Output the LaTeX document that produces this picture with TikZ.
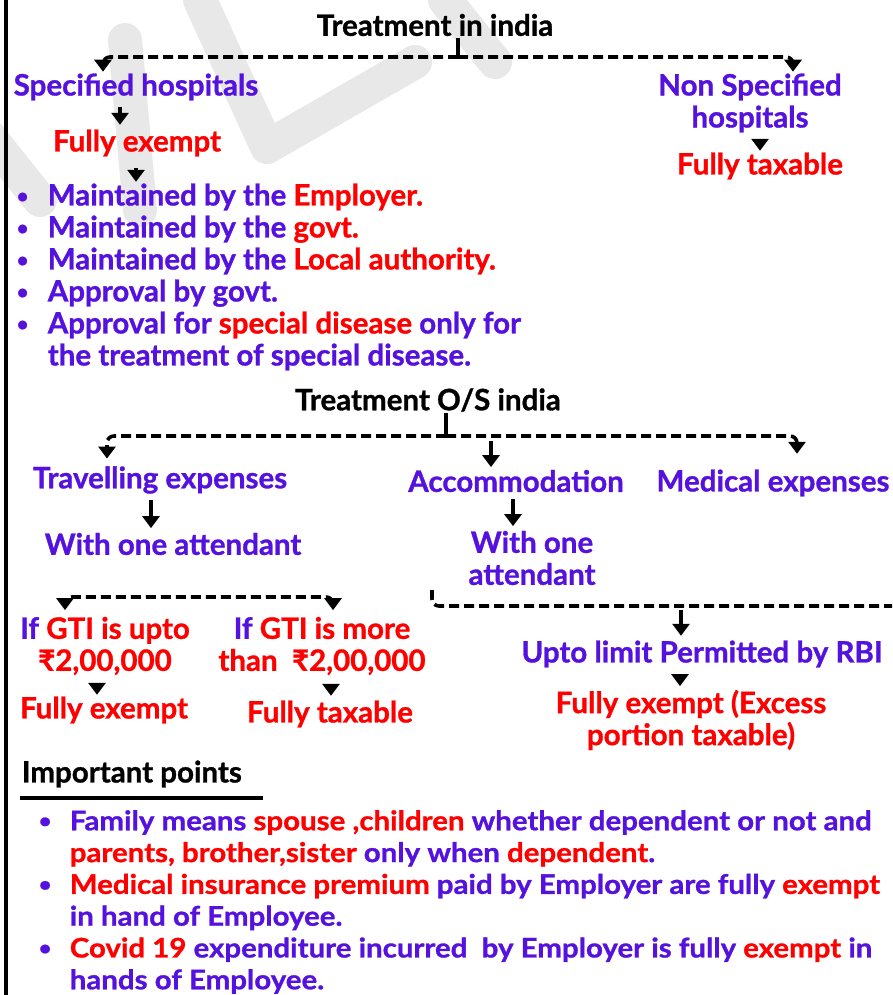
\documentclass[tikz,border=0pt]{standalone}
\usepackage{fontspec}
\setmainfont{Lato}[BoldFeatures={FakeBold=1}]
\newfontfamily\narrowfont{Lato}[FakeStretch=1.09,BoldFeatures={FakeBold=1}]
\usetikzlibrary{arrows.meta}

\definecolor{txtpurple}{RGB}{85,17,221}
\definecolor{txtred}{RGB}{255,0,0}
\definecolor{wmgray}{RGB}{232,232,232}

\newcommand{\R}[1]{\textcolor{txtred}{#1}}
\newcommand{\bul}{\makebox[31pt][l]{\raisebox{2.5pt}{\fontsize{20}{20}\selectfont\textbullet}}}

\tikzset{
  lbl/.style={font=\bfseries\fontsize{29.5}{32}\selectfont, inner sep=0pt, align=center},
  head/.style={lbl, text=black},
  blue lbl/.style={lbl, text=txtpurple},
  red lbl/.style={lbl, text=txtred},
  list/.style={lbl, align=left, text=txtpurple},
  arr/.style={-{Triangle[width=17pt,length=12pt]}, shorten <=5pt, shorten >=3pt},
  branch/.style={dash pattern=on 10pt off 5pt, rounded corners=7pt, -{Triangle[width=17pt,length=12pt]}},
  wm/.style={wmgray, line width=34pt, line cap=round, line join=round}
}

\begin{document}
\begin{tikzpicture}[x=1pt,y=1pt,yscale=-1,line width=3.6pt]
	\useasboundingbox (0,0) rectangle (892,995);

	% watermark
	\draw[wm] (125,40) -- (140,210);
	\draw[wm] (-20,125) -- (40,200);
	\draw[wm] (200,0) -- (267,147) -- (415,62);
	\draw[wm] (445,0) -- (495,62);

	% left border
	\draw[line width=4.5pt] (6,0) -- (6,995);

	% Treatment in india
	\node[head] (tin) at (435,25) {Treatment in india};
	\node[blue lbl] (spec) at (136,87) {Specified hospitals};
	\node[red lbl] (fexA) at (137,143) {Fully exempt};
	\node[list, anchor=west] (listA) at (15,277) {\bul Maintained by the \R{Employer.}\\
		\bul Maintained by the \R{govt.}\\
		\bul Maintained by the \R{Local authority.}\\
		\bul Approval by govt.\\
		\bul Approval for \R{special disease} only for\\
		\hspace*{31pt}the treatment of special disease.};
	\node[blue lbl] (nspec) at (750,103) {Non Specified\\hospitals};
	\node[red lbl] (ftxA) at (760,166) {Fully taxable};

	\coordinate (t1) at (458,57);
	\draw (tin.south -| t1) -- (t1);
	\draw[branch] (t1) -| ([xshift=-33pt]spec.north);
	\draw[branch] (t1) -| ([xshift=43pt]nspec.north);
	\draw[arr] ([xshift=-16pt]spec.south) -- ([xshift=-16pt]spec.south |- fexA.north);
	\draw[arr, shorten <=10pt, shorten >=0pt] ([xshift=-1pt]fexA.south) -- ([xshift=-1pt]fexA.south |- listA.north);
	\draw[arr, shorten <=6pt, shorten >=0pt] ([xshift=10pt]nspec.south) -- ([xshift=10pt]nspec.south |- ftxA.north);

	% Treatment O/S india
	\node[head] (tos) at (428,400) {Treatment O/S india};
	\node[blue lbl] (trav) at (160,480) {Travelling expenses};
	\node[blue lbl] (acc) at (516,481) {Accommodation};
	\node[blue lbl] (med) at (773,483) {Medical expenses};
	\node[blue lbl] (woaA) at (173,544) {With one attendant};
	\node[blue lbl] (woaB) at (532,558) {With one\\attendant};

	\coordinate (t2) at (446,436);
	\draw (tos.south -| t2) -- (t2);
	\draw[branch, shorten >=6pt] (t2) -| ([xshift=-53pt]trav.north);
	\draw[branch, shorten >=14pt] (t2) -| ([xshift=24pt]med.north);
	\draw[arr, shorten >=1pt] ([xshift=-25pt]acc.north |- t2) -- ([xshift=-25pt]acc.north);
	\draw[arr] ([xshift=-9pt]trav.south) -- ([xshift=-9pt]trav.south |- woaA.north);
	\draw[arr] ([xshift=-3pt]acc.south) -- ([xshift=-3pt]acc.south |- woaB.north);

	% GTI branch
	\node[red lbl] (gtiA) at (105,646) {\textcolor{txtpurple}{If} GTI is upto\\₹2,00,000};
	\node[red lbl] (gtiB) at (322,646) {\textcolor{txtpurple}{If} GTI is more\\than\ \ ₹2,00,000};
	\node[red lbl] (fexB) at (104,710) {Fully exempt};
	\node[red lbl] (ftxB) at (330,714) {Fully taxable};

	\coordinate (b1) at (200,597);
	\draw[branch, {Triangle[width=17pt,length=12pt]}-{Triangle[width=17pt,length=12pt]}, shorten <=5pt, shorten >=5pt] ([xshift=-40pt]gtiA.north) |- (b1) -| ([xshift=11pt]gtiB.north);
	\draw[arr, shorten <=12pt, shorten >=0pt] ([xshift=-8pt]gtiA.south) -- ([xshift=-8pt]gtiA.south |- fexB.north);
	\draw[arr, shorten <=10pt, shorten >=3pt] ([xshift=9pt]gtiB.south) -- ([xshift=9pt]gtiB.south |- ftxB.north);

	% RBI branch
	\node[blue lbl] (rbi) at (702,654) {Upto limit Permitted by RBI};
	\node[red lbl] (fexC) at (691,720) {Fully exempt (Excess\\portion taxable)};

	\coordinate (b2a) at (432,590);
	\coordinate (b2b) at (892,606);
	\draw[dash pattern=on 10pt off 5pt, rounded corners=7pt] (b2a) |- (b2b);
	\draw[arr, shorten <=4pt, shorten >=3pt] ([xshift=-21pt]rbi.north |- b2b) -- ([xshift=-21pt]rbi.north);
	\draw[arr, shorten <=6pt, shorten >=2pt] ([xshift=-22pt]rbi.south) -- ([xshift=-22pt]rbi.south |- fexC.north);

	% Important points
	\node[head, anchor=west] (imp) at (20,774) {Important points};
	\draw[line width=4pt] (imp.west |- 0,798) -- (263,798);
	\node[list, anchor=west, font=\bfseries\narrowfont\fontsize{27}{31.8}\selectfont] (listB) at (37,902) {\bul Family means \R{spouse ,children} whether dependent or not and\\
		\hspace*{31pt}\R{parents, brother,sister} only when \R{dependent}.\\
		\bul \R{Medical insurance premium} paid by Employer are fully \R{exempt}\\
		\hspace*{31pt}in hand of Employee.\\
		\bul \R{Covid 19} expenditure incurred\ \ by Employer is fully \R{exempt} in\\
		\hspace*{31pt}hands of Employee.};

\end{tikzpicture}
\end{document}
